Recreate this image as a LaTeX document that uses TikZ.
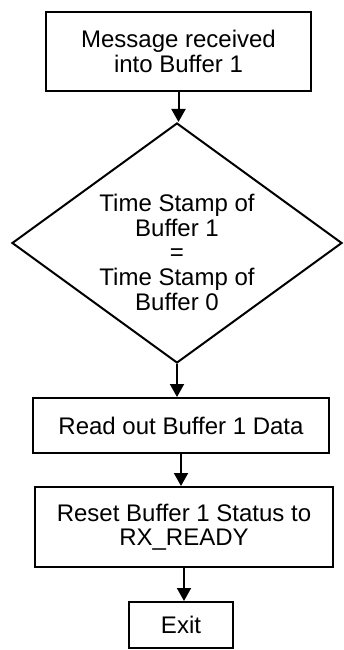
\documentclass[tikz,border=0pt]{standalone}
\usepackage{fontspec}
\setmainfont{Liberation Sans}
\usetikzlibrary{shapes.geometric,arrows.meta}
\begin{document}
\begin{tikzpicture}[x=1pt,y=-1pt,
  txt/.style={font=\fontsize{24pt}{24.5pt}\selectfont},
  box/.style={draw,line width=2pt,align=center,inner sep=0pt,txt},
  dec/.style={draw,line width=2pt,shape=diamond,aspect=1.375,inner sep=0pt,
    align=center,txt},
  arr/.style={line width=2pt,-{Triangle[width=14pt,length=13pt]}}]
\useasboundingbox (0,0) rectangle (344,650);
\node[box,minimum width=265pt,minimum height=79pt] (msg) at (178.5,51.5)
  {Message received\\into Buffer 1};
\node[dec,minimum width=330pt,minimum height=240pt] (cmp) at (177,243)
  {\raisebox{-19pt}[0pt][0pt]{\def\arraystretch{1}\begin{tabular}{@{}c@{}}Time Stamp of\\Buffer 1\\=\\Time Stamp of\\Buffer 0\end{tabular}}};
\node[box,minimum width=296pt,minimum height=55pt] (read) at (181,425.5)
  {Read out Buffer 1 Data};
\node[box,minimum width=298pt,minimum height=80pt] (reset) at (184,527)
  {Reset Buffer 1 Status to\\RX\_READY};
\node[box,minimum width=104pt,minimum height=46pt] (exit) at (181,625)
  {Exit};
\draw[arr] (msg.south) -- (msg.south |- cmp.north);
\draw[arr] (cmp.south) -- (cmp.south |- read.north);
\draw[arr] (read.south) -- (read.south |- reset.north);
\draw[arr] (reset.south) -- (reset.south |- exit.north);
\end{tikzpicture}
\end{document}
